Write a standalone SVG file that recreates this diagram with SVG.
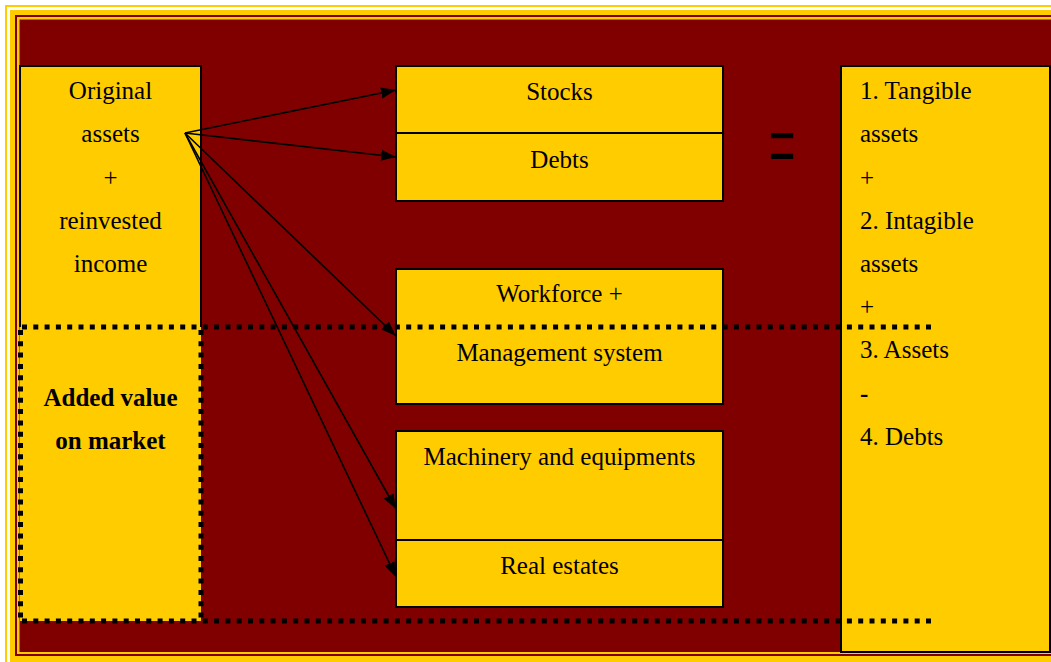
<svg xmlns="http://www.w3.org/2000/svg" width="1051" height="662" viewBox="0 0 1051 662">
<style>
.t{font-family:"Liberation Serif","Times New Roman",serif;font-size:25px;fill:#000}
.c{text-anchor:middle}
.b{font-weight:bold}
.box{fill:#FFCC00;stroke:#000;stroke-width:2}
.ln{stroke:#000;stroke-width:2;fill:none}
.dot{stroke:#000;stroke-width:5;stroke-dasharray:5 6.3;fill:none}
.arr{stroke:#000;stroke-width:1.6;fill:none;marker-end:url(#ah)}
</style>
<defs>
<marker id="ah" markerUnits="userSpaceOnUse" markerWidth="17" markerHeight="12" refX="15" refY="6" orient="auto">
<path d="M0,0.5 L15,6 L0,11.5 Z" fill="#000"/>
</marker>
</defs>
<rect x="0" y="0" width="1051" height="662" fill="#fff"/>
<g id="frame">
<rect x="6" y="6" width="1100" height="700" fill="none" stroke="#FFCC00" stroke-width="2"/>
<rect x="10" y="10" width="1100" height="700" fill="#FFCC00"/>
<rect x="15" y="15" width="1090" height="641" fill="#800000"/>
<rect x="17" y="17" width="1090" height="637" fill="#FFCC00"/>
<rect x="19.5" y="19.5" width="1090" height="632.5" fill="#800000"/>
</g>
<g id="left">
<rect x="20" y="66" width="181" height="555" fill="#FFCC00"/>
<path class="ln" d="M20,327 V66 H201 V327"/>
<text class="t c" x="110.5" y="99">Original</text>
<text class="t c" x="110.5" y="142">assets</text>
<text class="t c" x="110.5" y="186">+</text>
<text class="t c" x="110.5" y="229">reinvested</text>
<text class="t c" x="110.5" y="272">income</text>
<text class="t c b" x="110.5" y="406">Added value</text>
<text class="t c b" x="110.5" y="449">on market</text>
</g>
<g id="stocks-debts">
<rect class="box" x="396" y="66" width="327" height="135"/>
<line class="ln" x1="396" y1="133" x2="723" y2="133"/>
<text class="t c" x="559.5" y="100">Stocks</text>
<text class="t c" x="559.5" y="168">Debts</text>
</g>
<g id="workforce">
<rect class="box" x="396" y="269" width="327" height="135"/>
<text class="t c" x="559.5" y="302">Workforce +</text>
<text class="t c" x="559.5" y="361">Management system</text>
</g>
<g id="machinery">
<rect class="box" x="396" y="431" width="327" height="176"/>
<line class="ln" x1="396" y1="540" x2="723" y2="540"/>
<text class="t c" x="559.5" y="465">Machinery and equipments</text>
<text class="t c" x="559.5" y="574">Real estates</text>
</g>
<g id="equals">
<text x="0" y="0" text-anchor="middle" font-family="Liberation Serif, Times New Roman, serif" font-size="48" transform="translate(782,181) scale(1,2.14)">=</text>
</g>
<g id="right">
<rect class="box" x="841" y="66" width="209" height="586"/>
<text class="t" x="860" y="99">1. Tangible</text>
<text class="t" x="860" y="142">assets</text>
<text class="t" x="860" y="186">+</text>
<text class="t" x="860" y="229">2. Intagible</text>
<text class="t" x="860" y="272">assets</text>
<text class="t" x="860" y="315">+</text>
<text class="t" x="860" y="358">3. Assets</text>
<text class="t b" x="860" y="402">-</text>
<text class="t" x="860" y="445">4. Debts</text>
</g>
<g id="connectors">
<line class="arr" x1="185" y1="133" x2="396" y2="90"/>
<line class="arr" x1="185" y1="133" x2="396" y2="157"/>
<line class="arr" x1="185" y1="133" x2="396" y2="336"/>
<line class="arr" x1="185" y1="133" x2="396" y2="509"/>
<line class="arr" x1="185" y1="133" x2="396" y2="577"/>
</g>
<g id="dotted">
<path class="dot" d="M20.5,330 V621"/>
<path class="dot" d="M201,330 V621"/>
<path class="dot" d="M22,327 H935"/>
<path class="dot" d="M22,621 H935"/>
</g>
</svg>
